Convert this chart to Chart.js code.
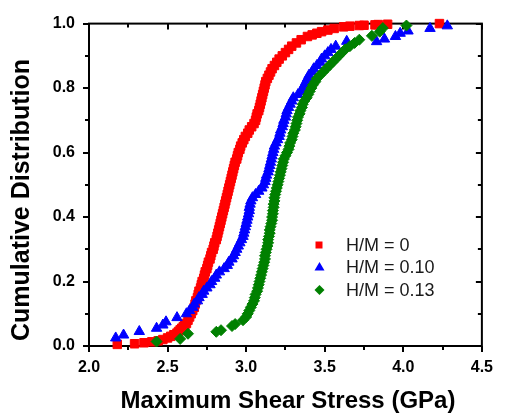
<!DOCTYPE html>
<html>
<head>
<meta charset="utf-8">
<script src="https://cdn.jsdelivr.net/npm/chart.js@4.4.1/dist/chart.umd.min.js"></script>
<style>
  html, body { margin: 0; padding: 0; background: #fff; }
</style>
</head>
<body>
<canvas id="chart" width="505" height="414"></canvas>
<script>
// values: [stress (GPa), cumulative fraction]
const seriesLabels = ['H/M = 0', 'H/M = 0.10', 'H/M = 0.13'];
const xTickLabels = ['2.0', '2.5', '3.0', '3.5', '4.0', '4.5'];
const yTickLabels = ['0.0', '0.2', '0.4', '0.6', '0.8', '1.0'];

const hm0 = [
  [2.18, 0.005], [2.29, 0.007], [2.35, 0.010], [2.40, 0.013], [2.44, 0.016], [2.47, 0.020],
  [2.50, 0.025], [2.52, 0.030], [2.54, 0.035], [2.56, 0.040], [2.57, 0.045], [2.58, 0.050],
  [2.59, 0.055], [2.60, 0.060], [2.61, 0.065], [2.62, 0.070], [2.63, 0.080], [2.64, 0.090],
  [2.65, 0.100], [2.66, 0.110], [2.67, 0.120], [2.675, 0.130], [2.68, 0.140], [2.69, 0.150],
  [2.695, 0.160], [2.70, 0.170], [2.71, 0.180], [2.715, 0.190], [2.72, 0.200], [2.73, 0.210],
  [2.735, 0.220], [2.74, 0.230], [2.75, 0.240], [2.755, 0.250], [2.76, 0.260], [2.77, 0.270],
  [2.775, 0.280], [2.78, 0.290], [2.79, 0.300], [2.795, 0.310], [2.80, 0.320], [2.81, 0.330],
  [2.815, 0.340], [2.82, 0.350], [2.825, 0.360], [2.83, 0.370], [2.835, 0.380], [2.84, 0.390],
  [2.845, 0.400], [2.85, 0.410], [2.855, 0.420], [2.86, 0.430], [2.865, 0.440], [2.87, 0.450],
  [2.875, 0.460], [2.88, 0.470], [2.885, 0.480], [2.89, 0.490], [2.895, 0.500], [2.90, 0.510],
  [2.905, 0.520], [2.91, 0.530], [2.915, 0.540], [2.92, 0.550], [2.925, 0.560], [2.93, 0.570],
  [2.94, 0.580], [2.945, 0.590], [2.95, 0.600], [2.96, 0.610], [2.965, 0.620], [2.975, 0.630],
  [2.985, 0.640], [2.995, 0.650], [3.01, 0.660], [3.02, 0.670], [3.035, 0.680], [3.05, 0.690],
  [3.06, 0.700], [3.065, 0.710], [3.07, 0.720], [3.08, 0.730], [3.085, 0.740], [3.09, 0.750],
  [3.095, 0.760], [3.10, 0.770], [3.105, 0.780], [3.11, 0.790], [3.115, 0.800], [3.12, 0.810],
  [3.125, 0.820], [3.135, 0.830], [3.145, 0.840], [3.155, 0.850], [3.165, 0.860], [3.18, 0.870],
  [3.195, 0.880], [3.21, 0.890], [3.23, 0.900], [3.25, 0.910], [3.27, 0.920], [3.29, 0.930],
  [3.32, 0.940], [3.35, 0.950], [3.39, 0.960], [3.42, 0.965], [3.45, 0.970], [3.48, 0.975],
  [3.52, 0.980], [3.56, 0.985], [3.62, 0.990], [3.66, 0.992], [3.72, 0.994], [3.75, 0.995],
  [3.82, 0.996], [3.84, 0.997], [3.90, 0.998], [4.23, 1.000]
];

const hm010 = [
  [2.17, 0.025], [2.22, 0.034], [2.32, 0.045], [2.43, 0.055], [2.47, 0.065], [2.49, 0.075],
  [2.56, 0.088], [2.62, 0.100], [2.64, 0.110], [2.66, 0.120], [2.67, 0.130], [2.69, 0.140],
  [2.70, 0.150], [2.72, 0.160], [2.73, 0.170], [2.75, 0.180], [2.77, 0.190], [2.78, 0.200],
  [2.80, 0.210], [2.81, 0.220], [2.83, 0.230], [2.86, 0.240], [2.88, 0.250], [2.89, 0.260],
  [2.91, 0.270], [2.92, 0.280], [2.93, 0.290], [2.94, 0.300], [2.95, 0.310], [2.96, 0.320],
  [2.97, 0.330], [2.98, 0.340], [2.985, 0.350], [2.99, 0.360], [2.995, 0.370], [3.00, 0.380],
  [3.005, 0.390], [3.01, 0.400], [3.015, 0.410], [3.02, 0.420], [3.02, 0.430], [3.025, 0.440],
  [3.03, 0.450], [3.04, 0.460], [3.06, 0.470], [3.08, 0.480], [3.10, 0.490], [3.11, 0.500],
  [3.12, 0.510], [3.125, 0.520], [3.13, 0.530], [3.14, 0.540], [3.145, 0.550], [3.15, 0.560],
  [3.155, 0.570], [3.16, 0.580], [3.165, 0.590], [3.17, 0.600], [3.175, 0.610], [3.18, 0.620],
  [3.19, 0.630], [3.20, 0.640], [3.21, 0.650], [3.215, 0.660], [3.22, 0.670], [3.23, 0.680],
  [3.235, 0.690], [3.24, 0.700], [3.25, 0.710], [3.255, 0.720], [3.26, 0.730], [3.27, 0.740],
  [3.28, 0.750], [3.29, 0.760], [3.30, 0.770], [3.33, 0.780], [3.35, 0.790], [3.36, 0.800],
  [3.37, 0.810], [3.38, 0.820], [3.39, 0.830], [3.40, 0.840], [3.42, 0.850], [3.43, 0.860],
  [3.45, 0.870], [3.47, 0.880], [3.48, 0.890], [3.50, 0.900], [3.52, 0.910], [3.54, 0.920],
  [3.57, 0.930], [3.64, 0.945], [3.83, 0.944], [3.88, 0.952], [3.95, 0.960], [3.98, 0.970],
  [4.03, 0.977], [4.17, 0.985], [4.28, 0.993]
];

const hm013 = [
  [2.43, 0.014], [2.58, 0.022], [2.63, 0.038], [2.81, 0.044], [2.84, 0.049], [2.91, 0.062],
  [2.93, 0.068], [2.98, 0.080], [3.00, 0.090], [3.01, 0.100], [3.02, 0.110], [3.03, 0.120],
  [3.04, 0.130], [3.05, 0.140], [3.055, 0.150], [3.06, 0.160], [3.07, 0.170], [3.075, 0.180],
  [3.08, 0.190], [3.085, 0.200], [3.09, 0.210], [3.095, 0.220], [3.10, 0.230], [3.105, 0.240],
  [3.11, 0.250], [3.115, 0.260], [3.12, 0.270], [3.12, 0.280], [3.125, 0.290], [3.13, 0.300],
  [3.135, 0.310], [3.14, 0.320], [3.14, 0.330], [3.145, 0.340], [3.15, 0.350], [3.15, 0.360],
  [3.155, 0.370], [3.16, 0.380], [3.165, 0.390], [3.165, 0.400], [3.17, 0.410], [3.17, 0.420],
  [3.175, 0.430], [3.175, 0.440], [3.18, 0.450], [3.18, 0.460], [3.185, 0.470], [3.19, 0.480],
  [3.195, 0.490], [3.20, 0.500], [3.205, 0.510], [3.21, 0.520], [3.215, 0.530], [3.22, 0.540],
  [3.225, 0.550], [3.23, 0.560], [3.235, 0.570], [3.24, 0.580], [3.25, 0.590], [3.26, 0.600],
  [3.27, 0.610], [3.275, 0.620], [3.28, 0.630], [3.29, 0.640], [3.295, 0.650], [3.30, 0.660],
  [3.31, 0.670], [3.315, 0.680], [3.32, 0.690], [3.325, 0.700], [3.33, 0.710], [3.34, 0.720],
  [3.345, 0.730], [3.355, 0.740], [3.36, 0.750], [3.37, 0.760], [3.385, 0.770], [3.395, 0.780],
  [3.405, 0.790], [3.415, 0.800], [3.425, 0.810], [3.44, 0.820], [3.45, 0.830], [3.47, 0.840],
  [3.49, 0.850], [3.51, 0.860], [3.53, 0.870], [3.55, 0.880], [3.57, 0.890], [3.59, 0.900],
  [3.61, 0.910], [3.63, 0.920], [3.66, 0.930], [3.69, 0.940], [3.72, 0.950], [3.80, 0.962],
  [3.85, 0.975], [3.87, 0.986], [4.02, 0.994]
];

const seriesColors = ['#ff0000', '#0000ff', '#008000'];

const toPoints = arr => arr.map(([x, y]) => ({ x, y }));

// frame, ticks and axis titles in the Origin look
const frame = {
  id: 'frame',
  beforeDatasetsDraw(chart) {
    const { ctx, chartArea: a, scales: { x, y } } = chart;
    ctx.save();
    ctx.strokeStyle = '#000';
    ctx.lineWidth = 2;
    ctx.strokeRect(a.left, a.top, a.right - a.left, a.bottom - a.top);
    ctx.lineWidth = 2;
    ctx.beginPath();
    for (let i = 0; i <= 10; i++) {
      const px = Math.round(x.getPixelForValue(2 + i * 0.25));
      const len = i % 2 ? 4 : 6;
      ctx.moveTo(px, a.bottom); ctx.lineTo(px, a.bottom + len);
      ctx.moveTo(px, a.top); ctx.lineTo(px, a.top + len);
    }
    for (let i = 0; i <= 10; i++) {
      const py = Math.round(y.getPixelForValue(i * 0.1));
      const len = i % 2 ? 4 : 6;
      ctx.moveTo(a.left, py); ctx.lineTo(a.left - len, py);
      ctx.moveTo(a.right, py); ctx.lineTo(a.right - len, py);
    }
    ctx.stroke();
    ctx.restore();
  },
  afterDraw(chart) {
    const { ctx } = chart;
    ctx.save();
    ctx.fillStyle = '#000';
    ctx.font = 'bold 24px "Liberation Sans", Arial, sans-serif';
    ctx.textAlign = 'center';
    ctx.textBaseline = 'middle';
    ctx.fillText('Maximum Shear Stress (GPa)', 288, 401);
    ctx.translate(22, 200);
    ctx.rotate(-Math.PI / 2);
    ctx.font = 'bold 25px "Liberation Sans", Arial, sans-serif';
    ctx.fillText('Cumulative Distribution', 0, 0);
    ctx.restore();

    // legend
    const rows = [245, 267, 290];
    ctx.save();
    rows.forEach((ly, i) => {
      ctx.fillStyle = seriesColors[i];
      ctx.beginPath();
      if (i === 0) {
        ctx.rect(315.5, ly - 3.5, 7, 7);
      } else if (i === 1) {
        ctx.moveTo(319.5, ly - 5);
        ctx.lineTo(324.5, ly + 3.5);
        ctx.lineTo(314.5, ly + 3.5);
        ctx.closePath();
      } else {
        ctx.moveTo(319.5, ly - 5);
        ctx.lineTo(324.5, ly);
        ctx.lineTo(319.5, ly + 5);
        ctx.lineTo(314.5, ly);
        ctx.closePath();
      }
      ctx.fill();
      ctx.fillStyle = '#1a1a1a';
      ctx.font = '18px "Liberation Sans", Arial, sans-serif';
      ctx.textAlign = 'left';
      ctx.textBaseline = 'middle';
      ctx.fillText(seriesLabels[i], 346, ly + 1);
    });
    ctx.restore();
  }
};

const styles = ['rect', 'triangle', 'rectRot'];
const radii = [6, 6, 5.5];
const allSeries = [hm0, hm010, hm013];

const tickFont = { family: '"Liberation Sans", Arial, sans-serif', size: 16, weight: 'bold' };

new Chart(document.getElementById('chart'), {
  type: 'scatter',
  data: {
    datasets: allSeries.map((s, i) => ({
      label: seriesLabels[i],
      data: toPoints(s),
      pointStyle: styles[i],
      pointRadius: radii[i],
      backgroundColor: seriesColors[i],
      borderColor: seriesColors[i],
      borderWidth: 1,
      showLine: false,
      clip: false,
      order: 3 - i,
    })),
  },
  options: {
    responsive: false,
    animation: false,
    events: [],
    layout: { padding: { top: 21, right: 12, left: 0, bottom: 0 } },
    plugins: { legend: { display: false }, tooltip: { enabled: false } },
    scales: {
      x: {
        type: 'linear',
        min: 2,
        max: 4.5,
        afterFit: scale => { scale.height = 68; },
        afterBuildTicks: scale => {
          scale.ticks = xTickLabels.map(t => ({ value: parseFloat(t) }));
        },
        grid: { display: false, drawTicks: false },
        border: { display: false },
        ticks: {
          padding: 12,
          color: '#000',
          font: tickFont,
          maxRotation: 0,
          callback: (v, i) => xTickLabels[i],
        },
      },
      y: {
        type: 'linear',
        min: 0,
        max: 1,
        afterFit: scale => { scale.width = 89; },
        afterBuildTicks: scale => {
          scale.ticks = yTickLabels.map(t => ({ value: parseFloat(t) }));
        },
        grid: { display: false, drawTicks: false },
        border: { display: false },
        ticks: {
          padding: 14,
          color: '#000',
          font: tickFont,
          callback: (v, i) => yTickLabels[i],
        },
      },
    },
  },
  plugins: [frame],
});
</script>
</body>
</html>
